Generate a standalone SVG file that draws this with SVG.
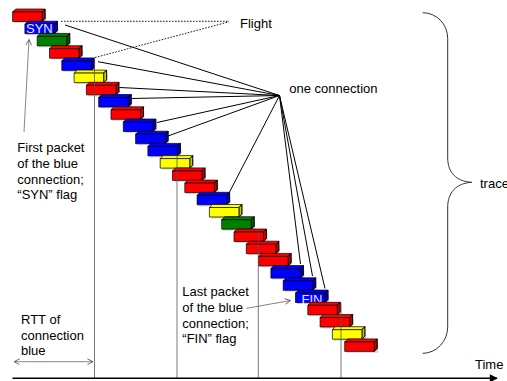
<svg xmlns="http://www.w3.org/2000/svg" xmlns:xlink="http://www.w3.org/1999/xlink" width="507" height="381" viewBox="0 0 507 381">
  <style>
    text { font-family: "Liberation Sans", Arial, sans-serif; font-size: 13px; fill: #000; }
    .lbl { fill: #e8e8ff; }
    .r { fill: #ff0000; }
    .b { fill: #0000ff; }
    .g { fill: #008000; }
    .y { fill: #ffff00; }
    .fan { stroke: #000; stroke-width: 1; fill: none; }
    .guide { stroke: #555; stroke-width: 0.8; fill: none; }
    .dot { stroke: #000; stroke-width: 0.9; fill: none; stroke-dasharray: 1.6 1.4; }
    .thin { stroke: #666; stroke-width: 0.8; fill: none; }
  </style>
  <defs>
    <!-- one packet: front face, top face and right side -->
    <g id="blk" stroke="#000" stroke-width="0.7" stroke-linejoin="round">
      <rect x="1.5" y="1.5" width="32" height="9.5" fill="#000" fill-opacity="0.15" stroke="none"/>
      <path d="M0 0 L3 -3 H32.5 L29.5 0 Z"/>
      <path d="M29.5 0 L32.5 -3 V6.5 L29.5 9.5 Z"/>
      <path d="M29.5 0 L32.5 -3 V6.5 L29.5 9.5 Z" fill="#000" fill-opacity="0.22"/>
      <rect width="29.5" height="9.5"/>
    </g>
    <marker id="open" viewBox="0 0 10 10" refX="9" refY="5" markerWidth="7" markerHeight="7" orient="auto-start-reverse" markerUnits="userSpaceOnUse">
      <path d="M1 1 L9 5 L1 9" fill="none" stroke="#555" stroke-width="1.2"/>
    </marker>
    <marker id="solid" viewBox="0 0 10 10" refX="9" refY="5" markerWidth="9" markerHeight="8" orient="auto" markerUnits="userSpaceOnUse">
      <path d="M0 0 L10 5 L0 10 Z" fill="#000"/>
    </marker>
  </defs>

  <!-- lines from the connection point to the packets of the blue connection -->
  <g id="connectors">
    <path class="fan" d="M279.5 95.5 L65 25"/>
    <path class="fan" d="M279.5 95.5 L98 61.7"/>
    <path class="fan" d="M279.5 95.5 L119.5 87.5"/>
    <path class="fan" d="M279.5 95.5 L131.5 98.5"/>
    <path class="fan" d="M279.5 95.5 L157 122.5"/>
    <path class="fan" d="M279.5 95.5 L168 136"/>
    <path class="fan" d="M279.5 95.5 L228.5 194"/>
    <path class="fan" d="M279.5 95.5 L300.5 264"/>
    <path class="fan" d="M279.5 95.5 L312.5 276"/>
    <path class="fan" d="M279.5 95.5 L325 288.5"/>
    <!-- flight bracket -->
    <path class="dot" d="M61 21.3 H229"/>
    <path class="dot" d="M95 57.5 L229 21.8"/>
  </g>

  <!-- packets along the trace -->
  <g id="packets">
    <g id="pkt0"><use xlink:href="#blk" x="12.6" y="12" class="r"/></g>
    <g id="pkt1"><use xlink:href="#blk" x="24.9" y="24.2" class="b"/><text class="lbl" x="26" y="33.4">SYN</text></g>
    <g id="pkt2"><use xlink:href="#blk" x="37.2" y="36.4" class="g"/></g>
    <g id="pkt3"><use xlink:href="#blk" x="49.5" y="48.7" class="r"/></g>
    <g id="pkt4"><use xlink:href="#blk" x="61.8" y="60.9" class="b"/></g>
    <g id="pkt5"><use xlink:href="#blk" x="74.1" y="73.1" class="y"/></g>
    <g id="pkt6"><use xlink:href="#blk" x="86.4" y="85.3" class="r"/></g>
    <g id="pkt7"><use xlink:href="#blk" x="98.7" y="97.5" class="b"/></g>
    <g id="pkt8"><use xlink:href="#blk" x="111" y="109.8" class="r"/></g>
    <g id="pkt9"><use xlink:href="#blk" x="123.3" y="122" class="b"/></g>
    <g id="pkt10"><use xlink:href="#blk" x="135.6" y="134.2" class="b"/></g>
    <g id="pkt11"><use xlink:href="#blk" x="147.9" y="146.4" class="b"/></g>
    <g id="pkt12"><use xlink:href="#blk" x="160.2" y="158.6" class="y"/></g>
    <g id="pkt13"><use xlink:href="#blk" x="172.5" y="170.9" class="r"/></g>
    <g id="pkt14"><use xlink:href="#blk" x="184.8" y="183.1" class="r"/></g>
    <g id="pkt15"><use xlink:href="#blk" x="197.1" y="195.3" class="b"/></g>
    <g id="pkt16"><use xlink:href="#blk" x="209.4" y="207.5" class="y"/></g>
    <g id="pkt17"><use xlink:href="#blk" x="221.7" y="219.7" class="g"/></g>
    <g id="pkt18"><use xlink:href="#blk" x="234" y="232" class="r"/></g>
    <g id="pkt19"><use xlink:href="#blk" x="246.3" y="244.2" class="r"/></g>
    <g id="pkt20"><use xlink:href="#blk" x="258.6" y="256.4" class="r"/></g>
    <g id="pkt21"><use xlink:href="#blk" x="270.9" y="268.6" class="b"/></g>
    <g id="pkt22"><use xlink:href="#blk" x="283.2" y="280.8" class="b"/></g>
    <g id="pkt23"><use xlink:href="#blk" x="295.5" y="293.1" class="b"/><text class="lbl" x="301.5" y="304.3">FIN</text></g>
    <g id="pkt24"><use xlink:href="#blk" x="307.8" y="305.3" class="r"/></g>
    <g id="pkt25"><use xlink:href="#blk" x="320.1" y="317.5" class="r"/></g>
    <g id="pkt26"><use xlink:href="#blk" x="332.4" y="329.7" class="y"/></g>
    <g id="pkt27"><use xlink:href="#blk" x="344.7" y="341.9" class="r"/></g>
  </g>

  <!-- round-trip markers dropped to the time axis -->
  <g id="guides">
    <path class="guide" d="M94.5 58 V378"/>
    <path class="guide" d="M177 156 V378"/>
    <path class="guide" d="M258.3 229 V378"/>
    <path class="guide" d="M341 303 V378"/>
  </g>

  <!-- time axis -->
  <g id="axis">
    <path d="M12.5 378.3 H497" stroke="#000" stroke-width="1.6" fill="none" marker-end="url(#solid)"/>
    <text x="475" y="369">Time</text>
  </g>

  <!-- RTT span -->
  <g id="rtt">
    <path class="thin" d="M14 361.7 H93" marker-start="url(#open)" marker-end="url(#open)"/>
    <text x="21" y="324">RTT of</text>
    <text x="21" y="339.6">connection</text>
    <text x="21" y="355.2">blue</text>
  </g>

  <!-- annotations -->
  <g id="syn-note">
    <path class="thin" d="M24 132 L29 39.5" marker-end="url(#open)"/>
    <text x="17.3" y="152">First packet</text>
    <text x="17.3" y="167.8">of the blue</text>
    <text x="17.3" y="183.6">connection;</text>
    <text x="17.3" y="199.4">“SYN” flag</text>
  </g>
  <g id="fin-note">
    <path class="thin" d="M246.5 308.3 L290.5 300.5" marker-end="url(#open)"/>
    <text x="182.3" y="296">Last packet</text>
    <text x="182.3" y="311.8">of the blue</text>
    <text x="182.3" y="327.6">connection;</text>
    <text x="182.3" y="343.4">“FIN” flag</text>
  </g>
  <g id="flight"><text x="240" y="28.3">Flight</text></g>
  <g id="connection"><text x="289.3" y="93.3">one connection</text></g>

  <!-- brace spanning the trace -->
  <g id="trace">
    <path d="M422.7 12.7 A25 25.6 0 0 1 447.7 38.3 V158 C447.7 172 456 181.5 471.7 182.3 C456 183.1 447.7 193 447.7 207 V326.7 A25 26.6 0 0 1 422.7 353.3" fill="none" stroke="#333" stroke-width="1"/>
    <text x="480" y="188.3">trace</text>
  </g>
</svg>
